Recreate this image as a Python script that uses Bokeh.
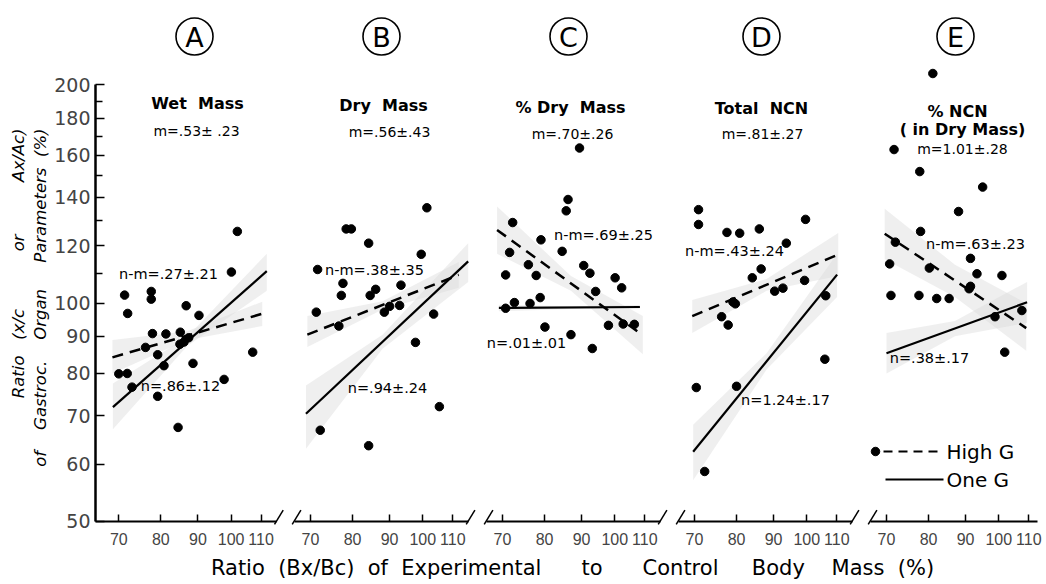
import math
from bokeh.plotting import figure
from bokeh.models import Range1d, LogScale, LogAxis, FixedTicker, PrintfTickFormatter
from bokeh.core.properties import value
from bokeh.embed import file_html
from bokeh.resources import INLINE

NB = "\u00a0"

# ---------------- data ----------------
panel_letters = ["A", "B", "C", "D", "E"]
panel_titles = ["Wet" + NB * 2 + "Mass", "Dry" + NB * 2 + "Mass", "%" + NB + "Dry" + NB * 2 + "Mass",
                "Total" + NB * 2 + "NCN", "%" + NB + "NCN"]
panel_subtitle_E = "(" + NB + "in" + NB + "Dry" + NB + "Mass)"
m_labels = ["m=.53±" + NB + ".23", "m=.56±.43", "m=.70±.26", "m=.81±.27", "m=1.01±.28"]
nm_labels = ["n-m=.27±.21", "n-m=.38±.35", "n-m=.69±.25", "n-m=.43±.24", "n-m=.63±.23"]
n_labels = ["n=.86±.12", "n=.94±.24", "n=.01±.01", "n=1.24±.17", "n=.38±.17"]

x_ticks = [70, 80, 90, 100, 110]
y_ticks = [50, 60, 70, 80, 90, 100, 120, 140, 160, 180, 200]
y_minor_ticks = [110, 130, 150, 170, 190]

A_x = [102.0, 100.1, 71.3, 77.6, 77.6, 72.0, 86.7, 90.3, 77.9, 81.3, 85.1, 76.2, 79.2,
       107.1, 70.0, 71.9, 80.8, 88.6, 73.0, 97.8, 79.2, 84.5, 85.0, 86.1, 87.4]
A_y = [125.6, 110.4, 102.6, 103.8, 101.3, 96.8, 99.2, 96.2, 90.8, 90.7, 91.2, 86.9, 84.9,
       85.6, 79.9, 80.0, 82.0, 82.6, 76.6, 78.5, 74.4, 67.4, 87.8, 88.4, 89.6]
B_x = [101.3, 78.4, 79.7, 84.2, 99.5, 71.6, 77.6, 77.2, 86.1, 84.6, 93.3, 71.3, 76.6,
       88.5, 90.0, 92.9, 103.5, 97.7, 105.4, 72.2, 84.2]
B_y = [135.4, 126.6, 126.6, 121.0, 116.8, 111.3, 106.5, 102.5, 104.5, 102.5, 105.9, 97.2, 93.0,
       97.2, 99.0, 99.3, 96.6, 88.3, 72.0, 66.8, 63.6]
C_x = [89.4, 86.2, 85.7, 72.3, 79.1, 71.6, 84.6, 76.0, 90.6, 70.7, 77.9, 92.4, 100.1,
       102.2, 94.1, 78.9, 72.7, 76.4, 70.7, 98.0, 102.7, 106.4, 80.1, 87.0, 93.1]
C_y = [163.7, 139.0, 134.1, 129.2, 122.3, 117.5, 117.9, 113.0, 112.7, 109.4, 109.2, 110.0, 108.4,
       105.0, 103.8, 101.8, 100.2, 99.9, 98.4, 93.2, 93.6, 93.5, 92.7, 90.5, 86.6]
D_x = [70.9, 70.9, 77.6, 80.8, 86.0, 99.6, 93.7, 86.5, 84.1, 99.3, 90.3, 92.7, 79.1,
       79.7, 106.2, 76.3, 77.9, 105.9, 70.4, 80.0, 72.3]
D_y = [134.6, 128.4, 125.2, 124.9, 126.6, 130.5, 121.0, 111.5, 108.4, 107.5, 103.9, 104.9, 100.4,
       99.8, 102.4, 95.8, 93.3, 83.7, 76.5, 76.8, 58.6]
E_x = [81.1, 71.7, 77.8, 95.0, 88.0, 78.0, 72.0, 70.7, 80.2, 91.4, 93.3, 101.0, 91.4,
       91.0, 71.0, 77.6, 82.1, 85.4, 98.8, 107.6, 101.9]
E_y = [207.4, 162.9, 151.9, 144.6, 133.8, 125.6, 121.4, 113.3, 111.8, 115.3, 109.8, 109.2, 105.5,
       104.7, 102.5, 102.5, 101.5, 101.5, 95.8, 97.7, 85.6]
points_x = [A_x, B_x, C_x, D_x, E_x]
points_y = [A_y, B_y, C_y, D_y, E_y]

# regression lines (end points): High G (dashed) and One G (solid)
high_x0 = [68.6, 69.3, 68.8, 69.5, 69.6]
high_y0 = [84.2, 90.5, 126.2, 96.0, 124.7]
high_x1 = [110.4, 112.1, 109.3, 110.5, 109.1]
high_y1 = [96.7, 109.4, 90.3, 116.7, 92.4]
one_x0 = [68.7, 69.0, 69.2, 69.7, 70.0]
one_y0 = [71.9, 70.4, 98.5, 62.4, 85.3]
one_x1 = [112.0, 115.5, 108.3, 110.1, 109.4]
one_y1 = [110.7, 114.2, 98.8, 109.5, 100.3]

# shaded confidence bands: lower/upper at (start, middle, end) of each line
band_mid_x = [87, 88, 87, 88, 87]
high_band_lo = [[80, 89, 93], [87, 98, 105], [117, 104, 85], [91, 104, 109], [115, 102, 86]]
high_band_hi = [[89, 91.5, 100.5], [96, 100.6, 114], [136, 109, 96], [101, 108, 125], [135, 113, 100]]
one_band_lo = [[67, 87.3, 104], [63, 86.5, 107], [97.5, 98.2, 98.3], [57, 81, 102], [80, 90, 94]]
one_band_hi = [[77.5, 89.9, 117], [77, 90.5, 121], [99.5, 99, 99.4], [68, 85.3, 117], [91, 94.5, 107]]

# ---------------- layout helpers (pixel placement of the log-log panels) ----------------
PPD = 725.0                         # pixels per decade on both axes
X70 = [118.3, 310.0, 502.0, 694.0, 886.0]   # page x of the "70" tick of each panel
Y100 = 302.7                        # page y of the "100" tick
W, H = 1044, 582
FONT_NAME = "DejaVu Sans"
FONT = value(FONT_NAME)
TICK_FONT = "Liberation Sans"
names = ["default", "B", "C", "D", "E"]


def fac(px):
    return 10 ** (px / PPD)


def xv(k, px):
    return 70 * fac(px - X70[k])


def yv(py):
    return 100 * fac(Y100 - py)


def xrange_for(k):
    s = xv(k, 0)
    return Range1d(s, s * fac(W))


p = figure(width=W, height=H, x_axis_type="log", y_axis_type="log",
           x_range=xrange_for(0), y_range=Range1d(yv(H), yv(0)),
           x_axis_location=None, y_axis_location=None, min_border=0,
           output_backend="svg", toolbar_location=None)
p.extra_x_ranges = {names[k]: xrange_for(k) for k in range(1, 5)}
p.extra_x_scales = {names[k]: LogScale() for k in range(1, 5)}
p.grid.visible = False
p.outline_line_color = None
p.background_fill_color = "white"
p.border_fill_color = "white"

# y axis
yax = LogAxis(fixed_location=xv(0, 95), bounds=(50, 200),
              ticker=FixedTicker(ticks=y_ticks, minor_ticks=y_minor_ticks),
              formatter=PrintfTickFormatter(format="%d"),
              major_tick_in=9, major_tick_out=0, minor_tick_in=7, minor_tick_out=0,
              axis_line_width=2.5, major_tick_line_width=1.5, minor_tick_line_width=1.5,
              major_label_text_font=FONT_NAME, major_label_text_font_size="19px",
              major_label_standoff=5)
p.add_layout(yax, "left")

for k, nm in enumerate(names):
    rn = nm
    lo = xv(k, 95) if k == 0 else xv(k, X70[k] - 16.5)
    hi = xv(k, X70[k] + 151) if k == 4 else xv(k, X70[k] + 157.5)
    ax = LogAxis(x_range_name=rn, fixed_location=50, bounds=(lo, hi),
                 ticker=FixedTicker(ticks=x_ticks, minor_ticks=[]),
                 formatter=PrintfTickFormatter(format="%d"),
                 major_tick_in=7, major_tick_out=0, minor_tick_in=0, minor_tick_out=0,
                 axis_line_width=2, major_tick_line_width=1.5,
                 major_label_text_font=TICK_FONT, major_label_text_font_size="16px",
                 major_label_standoff=12)
    p.add_layout(ax, "below")

    # axis break slashes
    sx = []
    if k > 0:
        sx.append(lo)
    if k < 4:
        sx.append(hi)
    p.segment(x0=[s * fac(-1.8) for s in sx], y0=[50 * fac(-3)] * len(sx),
              x1=[s * fac(6.9) for s in sx], y1=[50 * fac(11.3)] * len(sx),
              x_range_name=rn, line_color="black", line_width=1.5)

    # confidence bands
    bx = [high_x0[k], band_mid_x[k], high_x1[k]]
    p.patch(bx + bx[::-1], high_band_lo[k] + high_band_hi[k][::-1], x_range_name=rn,
            fill_color="#dadada", fill_alpha=0.42, line_color=None)
    bx = [one_x0[k], band_mid_x[k], one_x1[k]]
    p.patch(bx + bx[::-1], one_band_lo[k] + one_band_hi[k][::-1], x_range_name=rn,
            fill_color="#dadada", fill_alpha=0.42, line_color=None)

    # regression lines
    p.segment(x0=[high_x0[k]], y0=[high_y0[k]], x1=[high_x1[k]], y1=[high_y1[k]],
              x_range_name=rn, line_color="black", line_width=2.5, line_dash="11 7")
    p.segment(x0=[one_x0[k]], y0=[one_y0[k]], x1=[one_x1[k]], y1=[one_y1[k]],
              x_range_name=rn, line_color="black", line_width=2.2)

    # data points
    p.scatter(points_x[k], points_y[k], x_range_name=rn, marker="circle", size=8.5,
              fill_color="black", line_color="black")

# circled panel letters
letter_px = [194, 381, 568, 761, 955]
for k, nm in enumerate(names):
    lx = xv(k, letter_px[k])
    p.scatter([lx], [yv(36)], x_range_name=nm, marker="circle", size=37,
              fill_color=None, line_color="black", line_width=1.6)
    p.text([lx], [yv(37)], text=[panel_letters[k]], x_range_name=nm,
           text_font=FONT, text_font_size="27px", text_align="center",
           text_baseline="middle", text_color="black")

# titles and slopes
title_px = [197, 383, 570, 761, 957]
title_py = [103, 105, 107, 108, 111]
m_px = [196, 389, 572, 762, 962]
m_py = [130, 131, 133, 133, 148]
for k, nm in enumerate(names):
    p.text([xv(k, title_px[k])], [yv(title_py[k])], text=[panel_titles[k]], x_range_name=nm,
           text_font=FONT, text_font_size="16px", text_font_style="bold",
           text_align="center", text_baseline="middle")
    p.text([xv(k, m_px[k])], [yv(m_py[k])], text=[m_labels[k]], x_range_name=nm,
           text_font=FONT, text_font_size="14px", text_align="center", text_baseline="middle")
p.text([xv(4, 962)], [yv(129)], text=[panel_subtitle_E], x_range_name="E",
       text_font=FONT, text_font_size="16px", text_font_style="bold",
       text_align="center", text_baseline="middle")

nm_pos = [(168, 273), (374, 269), (603, 234), (734, 250), (975, 243)]
n_pos = [(180, 385), (387, 387), (526, 342), (785, 399), (929, 357)]
for k, nm in enumerate(names):
    p.text([xv(k, nm_pos[k][0])], [yv(nm_pos[k][1])], text=[nm_labels[k]], x_range_name=nm,
           text_font=FONT, text_font_size="14.5px", text_align="center", text_baseline="middle")
    p.text([xv(k, n_pos[k][0])], [yv(n_pos[k][1])], text=[n_labels[k]], x_range_name=nm,
           text_font=FONT, text_font_size="14.5px", text_align="center", text_baseline="middle")

# legend (drawn in panel E)
p.scatter([xv(4, 875)], [yv(451)], x_range_name="E", marker="circle", size=8.5, fill_color="black",
          line_color="black")
p.segment(x0=[xv(4, 883)], y0=[yv(451)], x1=[xv(4, 943)], y1=[yv(451)], x_range_name="E",
          line_color="black", line_width=1.8, line_dash="9 6")
p.segment(x0=[xv(4, 885)], y0=[yv(479)], x1=[xv(4, 943)], y1=[yv(479)], x_range_name="E",
          line_color="black", line_width=1.8)
p.text([xv(4, 946)] * 2, [yv(451), yv(479)], text=["High" + NB + "G", "One" + NB + "G"],
       x_range_name="E", text_font=FONT, text_font_size="20px", text_align="left",
       text_baseline="middle")

# axis titles
x_title = ("Ratio" + NB * 2 + "(Bx/Bc)" + NB * 2 + "of" + NB * 2 + "Experimental" + NB * 6 + "to"
           + NB * 6 + "Control" + NB * 5 + "Body" + NB * 4 + "Mass" + NB * 2 + "(%)")
p.text([xv(0, 572)], [yv(567)], text=[x_title],
       text_font=FONT, text_font_size="21px", text_align="center", text_baseline="middle")
y_title_1 = "Ratio" + NB * 3 + "(x/c" + NB * 11 + "or" + NB * 10 + "Ax/Ac)"
y_title_2 = "of" + NB * 4 + "Gastroc." + NB * 4 + "Organ" + NB * 5 + "Parameters" + NB * 2 + "(%)"
p.text([xv(0, 18), xv(0, 40)], [yv(128), yv(128)],
       text=[y_title_1, y_title_2],
       angle=math.pi / 2, text_font=FONT, text_font_size="16.5px", text_font_style="italic",
       text_align="right", text_baseline="middle")

open("out.html", "w").write(file_html(p, INLINE))
